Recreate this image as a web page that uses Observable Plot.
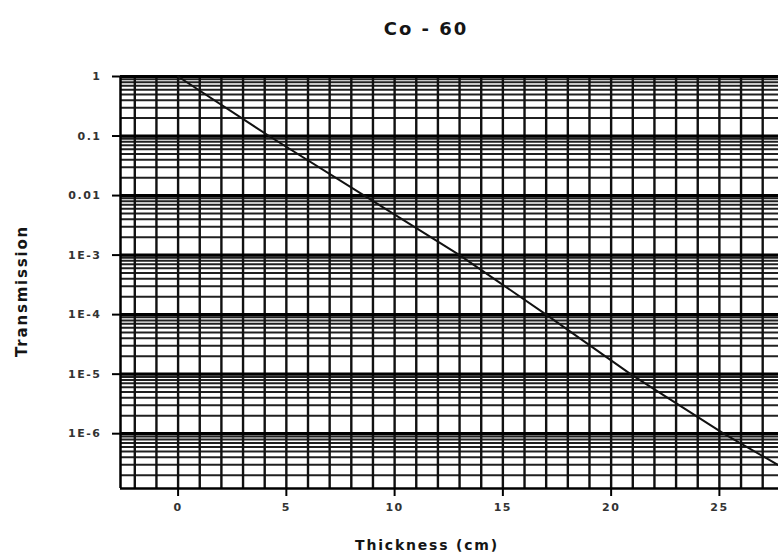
<!DOCTYPE html>
<html>
<head>
<meta charset="utf-8">
<script src="https://cdn.jsdelivr.net/npm/d3@7"></script>
<script src="https://cdn.jsdelivr.net/npm/@observablehq/plot@0.6"></script>
<style>
  html, body { margin: 0; padding: 0; background: #fff; }
  #wrap { position: relative; width: 778px; height: 560px; overflow: hidden; font-family: "DejaVu Sans", "Liberation Sans", sans-serif; font-weight: bold; }
  .title { position: absolute; left: 426px; top: 28px; transform: translate(-50%, -50%); font-size: 18px; letter-spacing: 2px; color: #151515; white-space: nowrap; }
  .xlab { position: absolute; left: 427px; top: 545px; transform: translate(-50%, -50%); font-size: 14px; letter-spacing: 1.8px; color: #151515; white-space: nowrap; }
  .ylab { position: absolute; left: 22px; top: 291px; transform: translate(-50%, -50%) rotate(-90deg); font-size: 15px; letter-spacing: 1.8px; color: #151515; white-space: nowrap; }
  svg text { letter-spacing: 1.5px; }
</style>
</head>
<body>
<div id="wrap">
  <div class="title">Co - 60</div>
  <div class="ylab">Transmission</div>
  <div class="xlab">Thickness (cm)</div>
</div>
<script>
// Data
const thickness = [0, 4.2, 8.6, 13.0, 17.0, 20.9, 25.2, 27.7];
const transmission = [1, 0.1, 0.01, 1e-3, 1e-4, 1e-5, 1e-6, 3e-7];

// Axis ticks and labels
const xTicks = [0, 5, 10, 15, 20, 25];
const yTicks = [1, 0.1, 0.01, 1e-3, 1e-4, 1e-5, 1e-6];
const yTickLabels = ["1", "0.1", "0.01", "1E-3", "1E-4", "1E-5", "1E-6"];

// Scale extents
const xDomain = [-2.66, 27.73];
const yDomain = [1.2e-7, 1];

const data = thickness.map((t, i) => ({t, v: transmission[i]}));

// grid positions
const vGrid = d3.range(-2, 28);
const decades = d3.range(-7, 1).map(e => Math.pow(10, e)).filter(v => v >= yDomain[0] && v <= yDomain[1]);
const minor = [];
for (let e = -8; e < 0; e++) {
  for (let k = 2; k <= 9; k++) {
    const v = k * Math.pow(10, e);
    if (v >= yDomain[0] && v <= yDomain[1]) minor.push(v);
  }
}

const chart = Plot.plot({
  width: 778,
  height: 560,
  marginTop: 76,
  marginBottom: 72,
  marginLeft: 120,
  marginRight: 0,
  style: {background: "transparent", fontSize: "11px", fontWeight: "bold", fontFamily: "'DejaVu Sans', sans-serif", color: "#333"},
  x: {domain: xDomain},
  y: {type: "log", domain: yDomain},
  marks: [
    Plot.ruleY(minor, {stroke: "#202020", strokeWidth: 2}),
    Plot.ruleX(vGrid, {stroke: "#111", strokeWidth: 2.4}),
    Plot.ruleY(decades, {stroke: "#000", strokeWidth: 3.2}),
    Plot.ruleX([xDomain[0]], {stroke: "#000", strokeWidth: 2.5}),
    Plot.ruleY([yDomain[0]], {stroke: "#000", strokeWidth: 2.5}),
    Plot.line(data, {x: "t", y: "v", stroke: "#111", strokeWidth: 2}),
    Plot.axisY({
      ticks: yTicks,
      tickFormat: d => yTickLabels[yTicks.indexOf(d)],
      tickSize: 8,
      tickPadding: 11,
      strokeWidth: 2,
      stroke: "#000",
      fill: "#333",
      label: null
    }),
    Plot.axisX({
      ticks: xTicks,
      tickFormat: d => String(d),
      tickSize: 8,
      tickPadding: 7,
      strokeWidth: 2,
      stroke: "#000",
      fill: "#333",
      label: null
    })
  ]
});
chart.style.position = "absolute";
chart.style.left = "0px";
chart.style.top = "0px";
document.getElementById("wrap").prepend(chart);
</script>
</body>
</html>
